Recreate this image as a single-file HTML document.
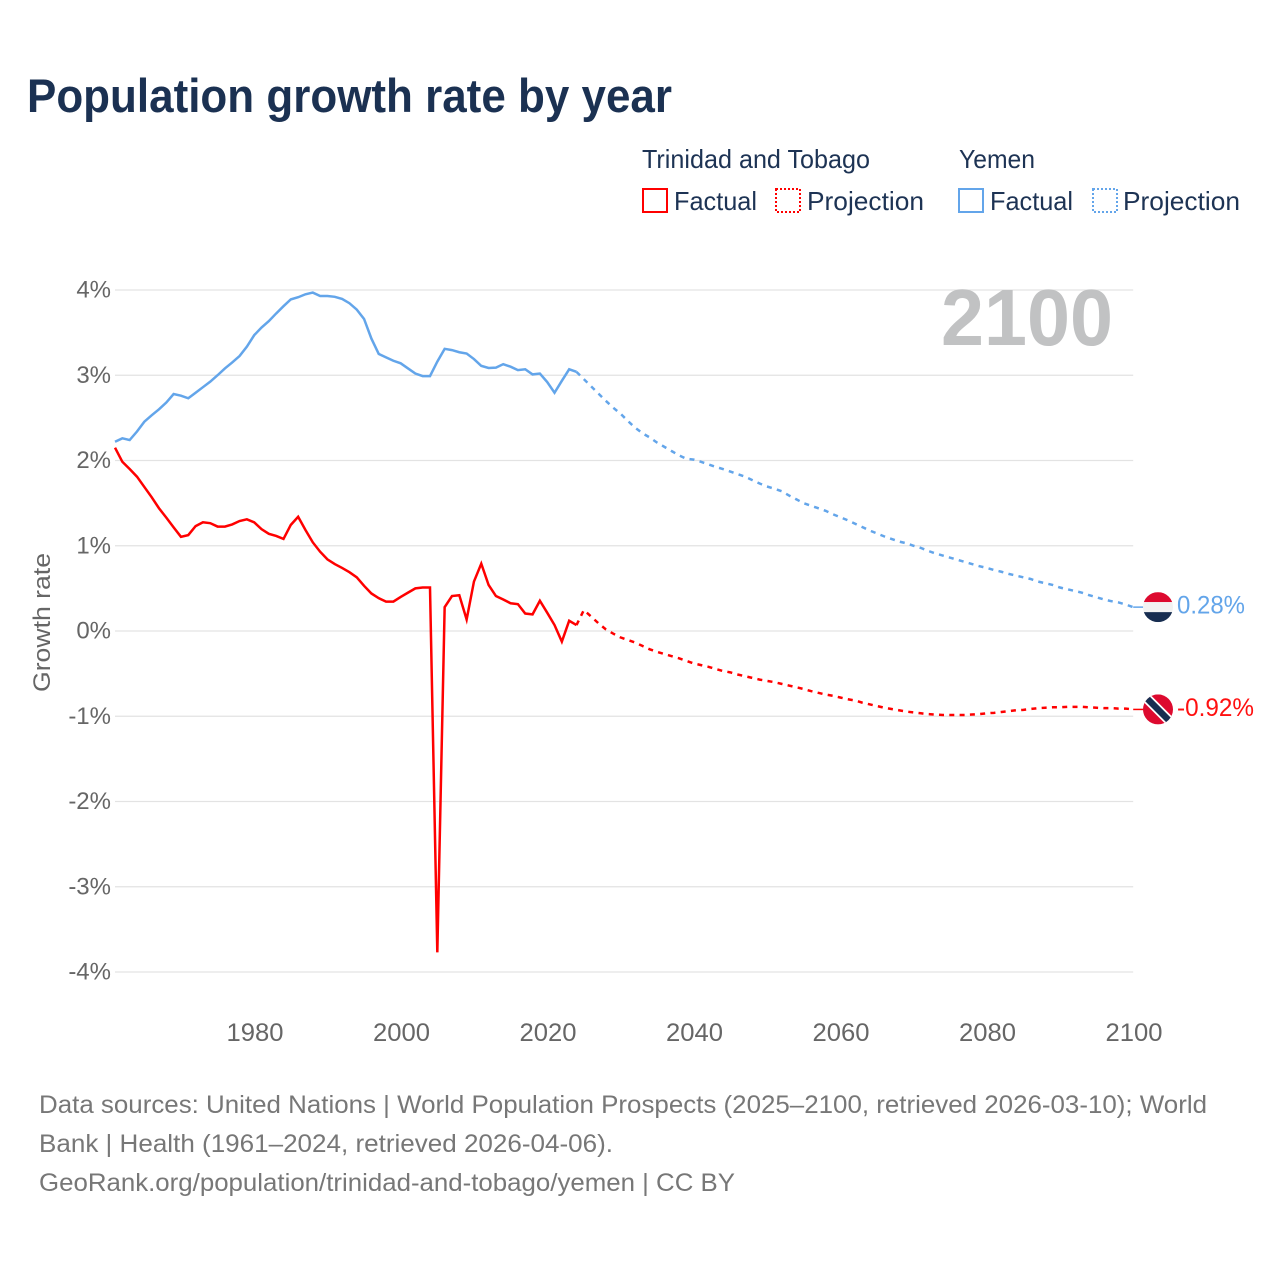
<!DOCTYPE html>
<html lang="en">
<head>
<meta charset="utf-8">
<title>Population growth rate by year</title>
<style>
  html, body { margin: 0; padding: 0; background: #fff; }
  svg { display: block; font-family: "Liberation Sans", "DejaVu Sans", sans-serif; }
</style>
</head>
<body>
<svg id="chart" xmlns="http://www.w3.org/2000/svg" width="1280" height="1280" viewBox="0 0 1280 1280">
  <defs>
    <clipPath id="clip-yemen"><circle id="clip-yemen-circle" cx="0" cy="0" r="15"/></clipPath>
    <clipPath id="clip-tt"><circle id="clip-tt-circle" cx="0" cy="0" r="15"/></clipPath>
  </defs>
  <rect width="1280" height="1280" fill="#ffffff"/>
  <text x="27" y="112" font-size="47" font-weight="700" fill="#1b3152" textLength="645" lengthAdjust="spacingAndGlyphs">Population growth rate by year</text>

  <g font-size="26" fill="#1d3354">
    <text x="642" y="168" textLength="228" lengthAdjust="spacingAndGlyphs">Trinidad and Tobago</text>
    <text x="959" y="168" textLength="76" lengthAdjust="spacingAndGlyphs">Yemen</text>
    <rect x="643" y="189" width="24" height="23" fill="none" stroke="#ff0000" stroke-width="2"/>
    <text x="674" y="210" textLength="83" lengthAdjust="spacingAndGlyphs">Factual</text>
    <rect x="776" y="189" width="24" height="23" fill="none" stroke="#ff0000" stroke-width="2" stroke-dasharray="2 2"/>
    <text x="807" y="210" textLength="117" lengthAdjust="spacingAndGlyphs">Projection</text>
    <rect x="959" y="189" width="24" height="23" fill="none" stroke="#63a5ea" stroke-width="2"/>
    <text x="990" y="210" textLength="83" lengthAdjust="spacingAndGlyphs">Factual</text>
    <rect x="1093" y="189" width="24" height="23" fill="none" stroke="#63a5ea" stroke-width="2" stroke-dasharray="2 2"/>
    <text x="1123" y="210" textLength="117" lengthAdjust="spacingAndGlyphs">Projection</text>
  </g>

  <g id="grid"></g>
  <g id="y-ticks" font-size="24" fill="#666666" text-anchor="end"></g>
  <g id="x-ticks" font-size="25" fill="#666666" text-anchor="middle"></g>
  <text transform="translate(50 692) rotate(-90)" font-size="24" fill="#666666" textLength="139" lengthAdjust="spacingAndGlyphs">Growth rate</text>

  <text x="941" y="345" font-size="80" font-weight="700" fill="#c1c2c3" textLength="172" lengthAdjust="spacingAndGlyphs">2100</text>

  <g id="series"></g>

  <g id="flag-yemen">
    <g clip-path="url(#clip-yemen)">
      <rect x="-15" y="-15" width="30" height="10" fill="#dd0a2f"/>
      <rect x="-15" y="-5" width="30" height="10" fill="#f2f2f2"/>
      <rect x="-15" y="5" width="30" height="10" fill="#172d50"/>
    </g>
  </g>
  <g id="flag-tt">
    <g clip-path="url(#clip-tt)">
      <rect x="-15" y="-15" width="30" height="30" fill="#dd0a2f"/>
      <line x1="-15" y1="-15" x2="15" y2="15" stroke="#ffffff" stroke-width="10"/>
      <line x1="-15" y1="-15" x2="15" y2="15" stroke="#172d50" stroke-width="6.5"/>
    </g>
  </g>
  <text id="value-yemen" x="1177" font-size="25" fill="#63a5ea" textLength="68" lengthAdjust="spacingAndGlyphs"></text>
  <text id="value-tt" x="1177" font-size="25" fill="#ff1010" textLength="77" lengthAdjust="spacingAndGlyphs"></text>

  <g font-size="25" fill="#777777">
    <text x="39" y="1113" textLength="1168" lengthAdjust="spacingAndGlyphs">Data sources: United Nations | World Population Prospects (2025–2100, retrieved 2026-03-10); World</text>
    <text x="39" y="1152" textLength="574" lengthAdjust="spacingAndGlyphs">Bank | Health (1961–2024, retrieved 2026-04-06).</text>
    <text x="39" y="1191" textLength="696" lengthAdjust="spacingAndGlyphs">GeoRank.org/population/trinidad-and-tobago/yemen | CC BY</text>
  </g>
</svg>
<script>
const yTickValues = [4, 3, 2, 1, 0, -1, -2, -3, -4];
const xTickYears = [1980, 2000, 2020, 2040, 2060, 2080, 2100];
const firstFactualYear = 1961;
const firstProjectionYear = 2024;
const yemenFactual = [
  2.22,2.26,2.24,2.34,2.455,2.53,2.60,2.68,2.78,2.76,
  2.73,2.795,2.86,2.925,3.0,3.08,3.15,3.225,3.335,3.47,
  3.56,3.635,3.725,3.81,3.89,3.915,3.95,3.97,3.93,3.93,
  3.92,3.895,3.845,3.77,3.66,3.43,3.25,3.21,3.17,3.14,
  3.08,3.02,2.99,2.99,3.16,3.31,3.295,3.27,3.255,3.19,
  3.11,3.085,3.09,3.13,3.10,3.06,3.07,3.01,3.02,2.92,
  2.795,2.935,3.07,3.04
];
const trinidadFactual = [
  2.15,1.985,1.90,1.81,1.69,1.57,1.44,1.33,1.215,1.105,
  1.125,1.23,1.275,1.265,1.225,1.225,1.25,1.29,1.31,1.275,
  1.195,1.14,1.115,1.08,1.245,1.34,1.185,1.04,0.93,0.84,
  0.785,0.74,0.69,0.63,0.53,0.44,0.385,0.345,0.345,0.40,
  0.45,0.50,0.51,0.51,-3.77,0.28,0.41,0.42,0.135,0.58,
  0.79,0.54,0.41,0.37,0.325,0.315,0.205,0.195,0.355,0.215,
  0.07,-0.125,0.12,0.07
];
const yemenProjection = [
  3.04,2.955,2.87,2.785,2.70,2.62,2.55,2.465,2.385,2.32,2.27,
  2.21,2.16,2.11,2.06,2.02,2.01,1.985,1.955,1.925,1.90,
  1.87,1.84,1.81,1.77,1.73,1.695,1.67,1.64,1.59,1.545,
  1.50,1.47,1.44,1.41,1.37,1.335,1.30,1.26,1.22,1.18,
  1.145,1.11,1.08,1.05,1.03,1.0,0.975,0.94,0.91,0.885,
  0.86,0.835,0.81,0.785,0.76,0.74,0.715,0.695,0.67,0.65,
  0.63,0.61,0.58,0.56,0.54,0.51,0.49,0.47,0.45,0.42,
  0.395,0.37,0.35,0.335,0.31,0.28
];
const trinidadProjection = [
  0.07,0.245,0.17,0.09,0.02,-0.03,-0.075,-0.105,-0.135,-0.175,-0.215,
  -0.245,-0.27,-0.295,-0.32,-0.35,-0.38,-0.40,-0.42,-0.445,-0.47,
  -0.485,-0.51,-0.53,-0.55,-0.57,-0.585,-0.60,-0.62,-0.64,-0.66,
  -0.68,-0.705,-0.725,-0.745,-0.76,-0.78,-0.80,-0.815,-0.84,-0.86,
  -0.88,-0.90,-0.915,-0.93,-0.945,-0.955,-0.965,-0.975,-0.98,-0.985,
  -0.985,-0.985,-0.985,-0.98,-0.975,-0.965,-0.96,-0.95,-0.94,-0.93,
  -0.925,-0.915,-0.905,-0.90,-0.895,-0.895,-0.89,-0.89,-0.89,-0.895,
  -0.90,-0.905,-0.905,-0.91,-0.91,-0.92
];
const endValueLabels = ["0.28%", "-0.92%"];

const NS = "http://www.w3.org/2000/svg";
const xScale = function (year) { return 254.2 + (year - 1980) * 7.325; };
const yScale = function (value) { return 631 - value * 85.25; };

function seriesPath(values, startYear) {
  return values.map(function (v, i) {
    return (i ? "L" : "M") + xScale(startYear + i).toFixed(2) + " " + yScale(v).toFixed(2);
  }).join(" ");
}

const grid = document.getElementById("grid");
const yTicks = document.getElementById("y-ticks");
yTickValues.forEach(function (v) {
  const line = document.createElementNS(NS, "line");
  
  
  line.setAttribute("x1", 115);
  line.setAttribute("x2", xScale(2100));
  line.setAttribute("y1", yScale(v));
  line.setAttribute("y2", yScale(v));
  line.setAttribute("stroke", "#e3e3e3");
  line.setAttribute("stroke-width", "1.2");
  grid.appendChild(line);
  const label = document.createElementNS(NS, "text");
  
  
  label.setAttribute("x", 111);
  label.setAttribute("y", yScale(v) + 7.5);
  label.textContent = v + "%";
  yTicks.appendChild(label);
});

const xTicks = document.getElementById("x-ticks");
xTickYears.forEach(function (year) {
  const label = document.createElementNS(NS, "text");
  
  
  label.setAttribute("x", xScale(year) + 0.8);
  label.setAttribute("y", 1041);
  label.setAttribute("textLength", 57);
  label.setAttribute("lengthAdjust", "spacingAndGlyphs");
  label.textContent = year;
  xTicks.appendChild(label);
});

const seriesGroup = document.getElementById("series");
function addLine(values, startYear, color, dashed, name) {
  const path = document.createElementNS(NS, "path");
  
  
  path.setAttribute("d", seriesPath(values, startYear));
  path.setAttribute("fill", "none");
  path.setAttribute("stroke", color);
  path.setAttribute("stroke-width", "2.5");
  path.setAttribute("stroke-linejoin", "miter");
  path.setAttribute("stroke-miterlimit", "10");
  if (dashed) path.setAttribute("stroke-dasharray", "5 5.3");
  seriesGroup.appendChild(path);
}
addLine(yemenFactual, firstFactualYear, "#63a5ea", false, "yemen-factual-line");
addLine(yemenProjection, firstProjectionYear, "#63a5ea", true, "yemen-projection-line");
addLine(trinidadFactual, firstFactualYear, "#ff0000", false, "trinidad-factual-line");
addLine(trinidadProjection, firstProjectionYear, "#ff0000", true, "trinidad-projection-line");

function addEndMarker(values, color, flagId, labelId, labelText, leaderName) {
  const y = yScale(values[values.length - 1]);
  const leader = document.createElementNS(NS, "line");
  
  
  leader.setAttribute("x1", xScale(2100));
  leader.setAttribute("x2", 1144);
  leader.setAttribute("y1", y);
  leader.setAttribute("y2", y);
  leader.setAttribute("stroke", color);
  leader.setAttribute("stroke-width", "1.5");
  seriesGroup.appendChild(leader);
  document.getElementById(flagId).setAttribute("transform", "translate(1158 " + y + ")");
  const label = document.getElementById(labelId);
  label.setAttribute("y", y + 6.5);
  label.textContent = labelText;
}
addEndMarker(yemenProjection, "#63a5ea", "flag-yemen", "value-yemen", endValueLabels[0], "yemen-end-leader");
addEndMarker(trinidadProjection, "#ff0000", "flag-tt", "value-tt", endValueLabels[1], "trinidad-end-leader");
</script>
</body>
</html>
